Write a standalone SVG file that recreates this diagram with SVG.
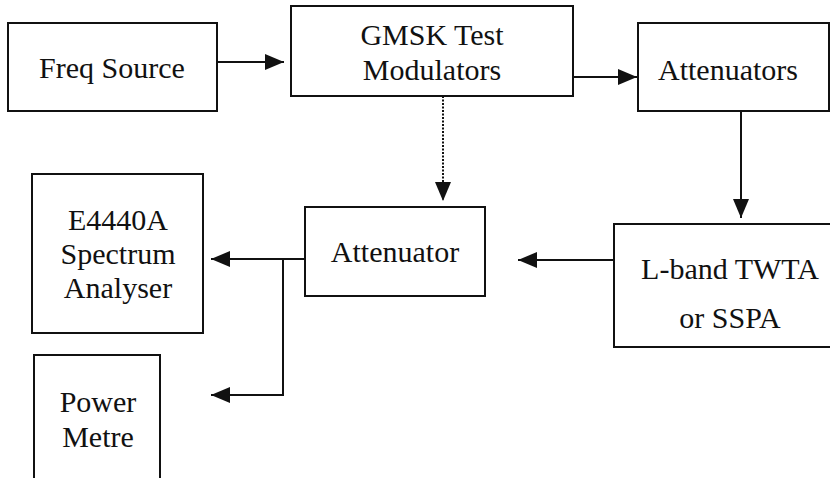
<svg xmlns="http://www.w3.org/2000/svg" width="830" height="478" viewBox="0 0 830 478">
<style>
.box{fill:#fff;stroke:#111;stroke-width:2}
.conn{fill:none;stroke:#111;stroke-width:2}
.dot{fill:none;stroke:#111;stroke-width:2;stroke-dasharray:2 1.5}
</style>
<defs>
<marker id="ah" markerWidth="20" markerHeight="18" refX="19" refY="9" orient="auto" markerUnits="userSpaceOnUse">
<path d="M0,1 L19,9 L0,17 Z" fill="#111"/>
</marker>
</defs>
<rect width="830" height="478" fill="#fff"/>
<g id="freq-source"><rect class="box" x="8" y="23" width="209" height="88"/><text x="112" y="78" font-family="Liberation Serif" font-size="30" fill="#111" text-anchor="middle">Freq Source</text></g>
<g id="gmsk"><rect class="box" x="291" y="6" width="282" height="90"/><text x="432" y="45" font-family="Liberation Serif" font-size="30" fill="#111" text-anchor="middle">GMSK Test</text><text x="432" y="80" font-family="Liberation Serif" font-size="30" fill="#111" text-anchor="middle">Modulators</text></g>
<g id="attenuators"><rect class="box" x="638" y="23" width="191" height="88"/><text x="728" y="80" font-family="Liberation Serif" font-size="30" fill="#111" text-anchor="middle">Attenuators</text></g>
<g id="attenuator"><rect class="box" x="305" y="207" width="180" height="89"/><text x="395" y="262" font-family="Liberation Serif" font-size="30" fill="#111" text-anchor="middle">Attenuator</text></g>
<g id="twta"><rect class="box" x="614" y="224" width="230" height="123"/><text x="730" y="279" font-family="Liberation Serif" font-size="30" fill="#111" text-anchor="middle">L-band TWTA</text><text x="730" y="328" font-family="Liberation Serif" font-size="30" fill="#111" text-anchor="middle">or SSPA</text></g>
<g id="spectrum"><rect class="box" x="32" y="174" width="171" height="159"/><text x="118" y="230" font-family="Liberation Serif" font-size="30" fill="#111" text-anchor="middle">E4440A</text><text x="118" y="264" font-family="Liberation Serif" font-size="30" fill="#111" text-anchor="middle">Spectrum</text><text x="118" y="298" font-family="Liberation Serif" font-size="30" fill="#111" text-anchor="middle">Analyser</text></g>
<g id="power"><rect class="box" x="34" y="355" width="126" height="140"/><text x="98" y="412" font-family="Liberation Serif" font-size="30" fill="#111" text-anchor="middle">Power</text><text x="98" y="447" font-family="Liberation Serif" font-size="30" fill="#111" text-anchor="middle">Metre</text></g>
<g id="connectors">
<line class="conn" x1="217" y1="62" x2="284" y2="62" marker-end="url(#ah)"/>
<line class="conn" x1="573" y1="77" x2="637" y2="77" marker-end="url(#ah)"/>
<line class="conn" x1="741" y1="111" x2="741" y2="218" marker-end="url(#ah)"/>
<line class="dot" x1="443" y1="96" x2="443" y2="201" marker-end="url(#ah)"/>
<line class="conn" x1="614" y1="260" x2="518" y2="260" marker-end="url(#ah)"/>
<line class="conn" x1="305" y1="259" x2="211" y2="259" marker-end="url(#ah)"/>
<polyline class="conn" points="283,259 283,395 211,395" marker-end="url(#ah)"/>
</g>
</svg>
